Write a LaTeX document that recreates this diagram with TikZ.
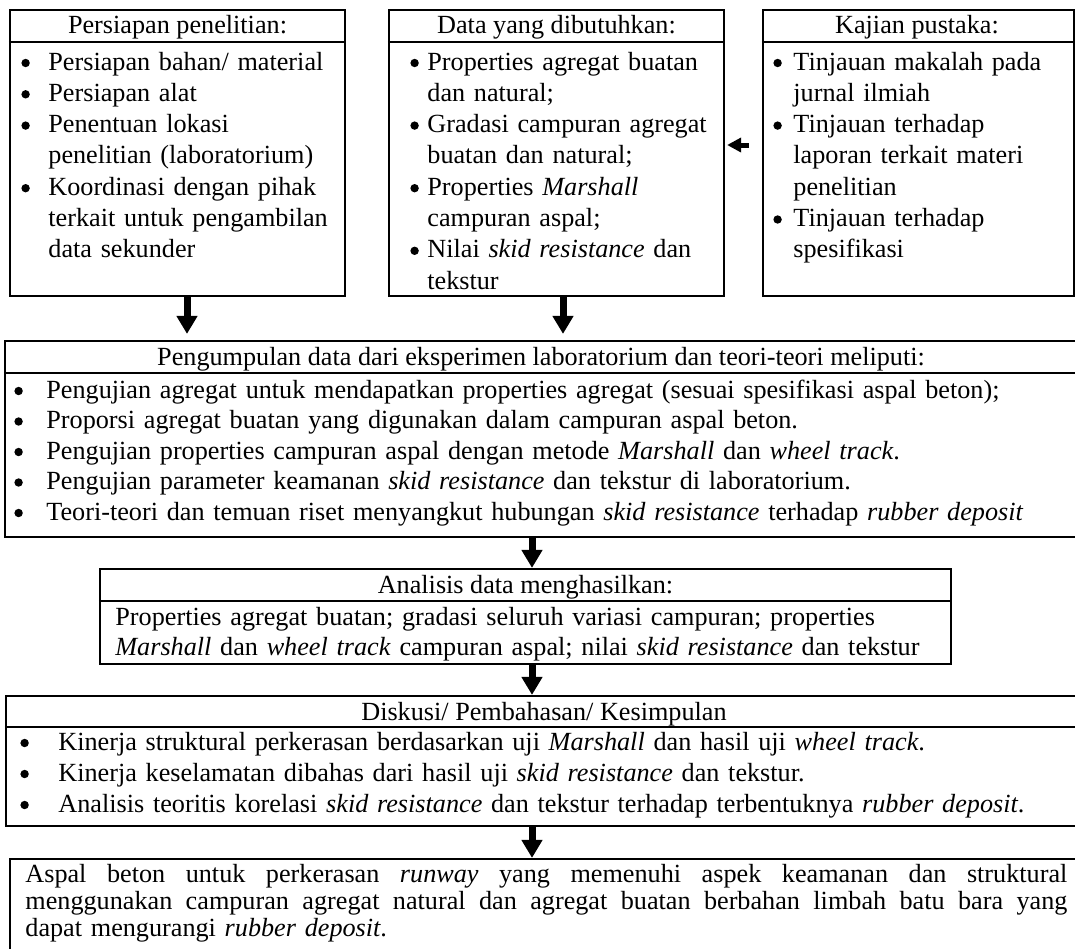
\documentclass[tikz,border=0pt]{standalone}
\usepackage{fontspec}
\usepackage{pict2e}
\setmainfont{Liberation Serif}
\usetikzlibrary{fit,arrows.meta}
\newlength\myhg
\newcommand\mydot{{\setlength{\unitlength}{1pt}\begin{picture}(4.2,0)\put(2.1,3.5){\circle*{4.2}}\end{picture}}}
\newcommand\myb{\makebox[\myhg][l]{\mydot}}
\newcommand\myc{\hspace*{\myhg}}
\newcommand\fsz[1]{\fontsize{13.1pt}{#1}\selectfont}
\begin{document}
\begin{tikzpicture}[x=0.5pt,y=-0.5pt,
  box/.style={draw, line width=1.1pt, inner sep=0pt},
  divider/.style={line width=1.1pt},
  ttl/.style={anchor=base, inner sep=0pt, font=\fsz{15pt}},
  body/.style={anchor=base west, inner sep=0pt, align=left, text width=#1},
  arr/.style={-{Triangle[width=10pt,length=9pt]}, line width=3.5pt},
  sarr/.style={-{Triangle[width=7pt,length=7pt]}, line width=2.5pt}]
\clip (0,0) rectangle (1075,948);
\fill[white] (0,0) rectangle (1075,948);

% boxes
\node[box, fit={(10,10) (345,296)}] (b1) {};
\node[box, fit={(389,10) (724,296)}] (b2) {};
\node[box, fit={(763,10) (1074,296)}] (b3) {};
\node[box, fit={(5,341) (1085,537)}] (p) {};
\node[box, fit={(100,569) (951,664)}] (a) {};
\node[box, fit={(6,696) (1085,826)}] (d) {};
\node[box, fit={(10,859) (1085,975)}] (f) {};

% dividers
\draw[divider] (b1.west |- 0,42) -- (b1.east |- 0,42);
\draw[divider] (b2.west |- 0,42) -- (b2.east |- 0,42);
\draw[divider] (b3.west |- 0,42) -- (b3.east |- 0,42);
\draw[divider] (p.west |- 0,373) -- (p.east |- 0,373);
\draw[divider] (a.west |- 0,601) -- (a.east |- 0,601);
\draw[divider] (d.west |- 0,727) -- (d.east |- 0,727);

% titles
\node[ttl] (t1) at (177.5,33) {Persiapan penelitian:};
\node[ttl] (t2) at (556.5,33) {Data yang dibutuhkan:};
\node[ttl] (t3) at (917,33) {Kajian pustaka:};
\node[ttl] (tp) at (541,365) {Pengumpulan data dari eksperimen laboratorium dan teori-teori meliputi:};
\node[ttl] (ta) at (525.5,593) {Analisis data menghasilkan:};
\node[ttl] (td) at (544,720) {Diskusi/ Pembahasan/ Kesimpulan};

% bodies
\node[body=200pt, font={\fsz{15.65pt}\setlength\myhg{13.5pt}}] (c1) at (21,70) {%
\myb Persiapan bahan/ material\\
\myb Persiapan alat\\
\myb Penentuan lokasi\\
\myc penelitian (laboratorium)\\
\myb Koordinasi dengan pihak\\
\myc terkait untuk pengambilan\\
\myc data sekunder};

\node[body=200pt, font={\fsz{15.65pt}\setlength\myhg{8.5pt}}] (c2) at (410,70) {%
\myb Properties agregat buatan\\
\myc dan natural;\\
\myb Gradasi campuran agregat\\
\myc buatan dan natural;\\
\myb Properties \textit{Marshall}\\
\myc campuran aspal;\\
\myb Nilai \textit{skid resistance} dan\\
\myc tekstur};

\node[body=200pt, font={\fsz{15.65pt}\setlength\myhg{10pt}}] (c3) at (773,70) {%
\myb Tinjauan makalah pada\\
\myc jurnal ilmiah\\
\myb Tinjauan terhadap\\
\myc laporan terkait materi\\
\myc penelitian\\
\myb Tinjauan terhadap\\
\myc spesifikasi};

\node[body=525pt, font={\fsz{15.25pt}\setlength\myhg{16pt}}] (cp) at (14,398) {%
\myb Pengujian agregat untuk mendapatkan properties agregat (sesuai spesifikasi aspal beton);\\
\myb Proporsi agregat buatan yang digunakan dalam campuran aspal beton.\\
\myb Pengujian properties campuran aspal dengan metode \textit{Marshall} dan \textit{wheel track}.\\
\myb Pengujian parameter keamanan \textit{skid resistance} dan tekstur di laboratorium.\\
\myb Teori-teori dan temuan riset menyangkut hubungan \textit{skid resistance} terhadap \textit{rubber deposit}};

\node[body=420pt, font={\fsz{15pt}}] (ca) at (115,625) {%
Properties agregat buatan; gradasi seluruh variasi campuran; properties\\
\textit{Marshall} dan \textit{wheel track} campuran aspal; nilai \textit{skid resistance} dan tekstur};

\node[body=520pt, font={\fsz{15.5pt}\setlength\myhg{19pt}}] (cd) at (20,750) {%
\myb Kinerja struktural perkerasan berdasarkan uji \textit{Marshall} dan hasil uji \textit{wheel track}.\\
\myb Kinerja keselamatan dibahas dari hasil uji \textit{skid resistance} dan tekstur.\\
\myb Analisis teoritis korelasi \textit{skid resistance} dan tekstur terhadap terbentuknya \textit{rubber deposit}.};

\node[body=522pt, font={\fsz{13.6pt}}] (cf) at (25,882) {%
\makebox[521pt][l]{Aspal\hfill beton\hfill untuk\hfill perkerasan\hfill \textit{runway}\hfill yang\hfill memenuhi\hfill aspek\hfill keamanan\hfill dan\hfill struktural}\\
\makebox[521pt][l]{menggunakan\hfill campuran\hfill agregat\hfill natural\hfill dan\hfill agregat\hfill buatan\hfill berbahan\hfill limbah\hfill batu\hfill bara\hfill yang}\\
dapat mengurangi \textit{rubber deposit}.};

% arrows
\coordinate (x1) at (187,0);
\coordinate (x2) at (563,0);
\coordinate (x3) at (532,0);
\coordinate (la) at (749,145);
\draw[arr, shorten >=3pt] (b1.south -| x1) -- (p.north -| x1);
\draw[arr, shorten >=3pt] (b2.south -| x2) -- (p.north -| x2);
\draw[arr] (p.south -| x3) -- (a.north -| x3);
\draw[arr] (a.south -| x3) -- (d.north -| x3);
\draw[arr] (d.south -| x3) -- (f.north -| x3);
\draw[sarr, shorten >=1pt] (la) -- (la -| b2.east);
\end{tikzpicture}
\end{document}
